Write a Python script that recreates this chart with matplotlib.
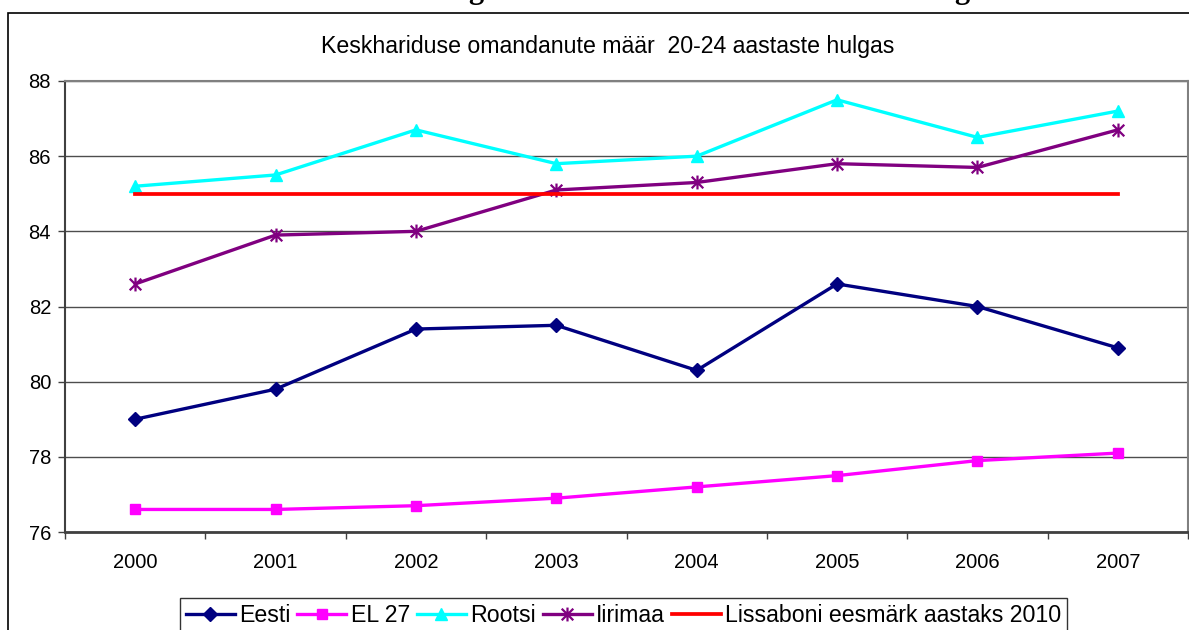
import numpy as np
import matplotlib
matplotlib.use("Agg")
import matplotlib.pyplot as plt
from matplotlib.path import Path
from matplotlib.patches import Rectangle

plt.rcParams['font.family'] = ['Liberation Sans', 'DejaVu Sans']

# Data
years = ["2000", "2001", "2002", "2003", "2004", "2005", "2006", "2007"]
eesti = [79.0, 79.8, 81.4, 81.5, 80.3, 82.6, 82.0, 80.9]
el27 = [76.6, 76.6, 76.7, 76.9, 77.2, 77.5, 77.9, 78.1]
rootsi = [85.2, 85.5, 86.7, 85.8, 86.0, 87.5, 86.5, 87.2]
iirimaa = [82.6, 83.9, 84.0, 85.1, 85.3, 85.8, 85.7, 86.7]
lissabon = [85, 85, 85, 85, 85, 85, 85, 85]

title = "Keskhariduse omandanute määr  20-24 aastaste hulgas"
labels = ["Eesti", "EL 27", "Rootsi", "Iirimaa", "Lissaboni eesmärk aastaks 2010"]

# Excel style "star" marker: an x with a vertical bar
star = Path([(-1, -1), (1, 1), (-1, 1), (1, -1), (0, -1.2), (0, 1.2)],
            [Path.MOVETO, Path.LINETO, Path.MOVETO, Path.LINETO, Path.MOVETO, Path.LINETO])

fig = plt.figure(figsize=(11.89, 6.30), dpi=100)
ax = fig.add_axes([65 / 1189, 1 - 532 / 630, (1188 - 65) / 1189, (532 - 81) / 630])

x = np.arange(len(years))
lw = 2.4
ax.plot(x, eesti, color="#000080", lw=lw, marker="D", ms=7, label=labels[0], clip_on=False)
ax.plot(x, el27, color="#FF00FF", lw=lw, marker="s", ms=7.5, label=labels[1], clip_on=False)
ax.plot(x, rootsi, color="#00FFFF", lw=lw, marker="^", ms=9, label=labels[2], clip_on=False)
ax.plot(x, iirimaa, color="#800080", lw=lw, marker=star, ms=10, mfc="none", mec="#800080",
        mew=1.6, label=labels[3], clip_on=False)
ax.plot(x, lissabon, color="#FF0000", lw=lw + 0.3, label=labels[4], clip_on=False)

ax.set_xlim(-0.5, len(years) - 0.5)
ax.set_ylim(76, 88)
ax.set_yticks(np.arange(76, 89, 2))
ax.yaxis.grid(True, color="#4d4d4d", lw=1.0)
ax.set_axisbelow(True)

# ticks between categories, labels on categories
ax.set_xticks(np.arange(-0.5, len(years), 1.0))
ax.set_xticklabels([])
ax.set_xticks(x, minor=True)
ax.set_xticklabels(years, minor=True)
ax.tick_params(axis="x", which="major", length=5, width=1, color="#404040", direction="out")
ax.tick_params(axis="x", which="minor", length=0, pad=15, labelsize=14.5)
ax.tick_params(axis="y", length=5, width=1, color="#404040", pad=5, labelsize=14.5)

ax.spines["top"].set_color("#808080")
ax.spines["right"].set_color("#808080")
ax.spines["top"].set_linewidth(1.5)
ax.spines["right"].set_linewidth(1.5)
ax.spines["left"].set_color("#404040")
ax.spines["left"].set_linewidth(1.5)
ax.spines["bottom"].set_color("#404040")
ax.spines["bottom"].set_linewidth(2)

# outer chart frame
fig.patches.append(Rectangle((8 / 1189, -0.1), 1.2, 1 - 13 / 630 + 0.1,
                             transform=fig.transFigure, fill=False, ec="black", lw=1.2))

fig.text(608 / 1189, 1 - 46 / 630, title, ha="center", va="center", fontsize=16.7)

# clipped heading above the chart (only the descenders show)
fig.text(476 / 1189, 1 + 2 / 630, "g", ha="center", va="baseline", fontsize=22,
         family="Liberation Serif", fontweight="bold")
fig.text(962 / 1189, 1 + 2 / 630, "g", ha="center", va="baseline", fontsize=22,
         family="Liberation Serif", fontweight="bold")

leg = fig.legend(loc="upper left", bbox_to_anchor=(180 / 1189, 1 - 598 / 630), ncol=5,
                 fontsize=16.7, frameon=True, fancybox=False, edgecolor="black",
                 handlelength=2.1, handletextpad=0.2, columnspacing=0.3, borderpad=0.25,
                 borderaxespad=0)
leg.get_frame().set_linewidth(1.0)

fig.savefig("out.png", dpi=100)
